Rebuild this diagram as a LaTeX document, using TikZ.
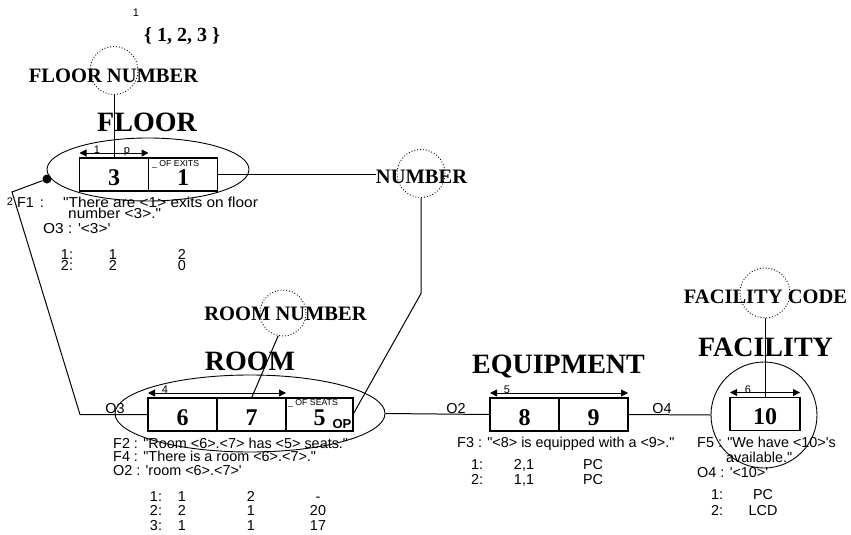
\documentclass[tikz,border=0pt]{standalone}
\usepackage{fontspec}
\setmainfont{Liberation Serif}
\newfontfamily\plainsans{Liberation Sans}
\usepackage{tikz}
\usetikzlibrary{positioning,arrows.meta,shapes.geometric}
\newcommand{\enttxt}{\bfseries\fontsize{28}{30}\selectfont}
\newcommand{\roletxt}{\bfseries\fontsize{20.5}{22}\selectfont}
\newcommand{\celltxt}{\bfseries\fontsize{24}{26}\selectfont}
\newcommand{\facttxt}{\plainsans\fontsize{14.4}{14}\selectfont}
\newcommand{\tinytxt}{\plainsans\fontsize{11}{12}\selectfont}
\newcommand{\captxt}{\plainsans\fontsize{8.7}{9}\selectfont}
\newcommand{\wide}[1]{\scalebox{1.07}[1]{#1}}

\begin{document}
\begin{tikzpicture}[x=1pt,y=-1pt,>={Triangle[length=7pt,width=7pt]},
  cell/.style={draw,line width=1.1pt,minimum width=69pt,minimum height=33pt,inner sep=0pt,outer sep=0pt,font=\celltxt,text height=21pt,text depth=0pt},
  ent/.style={font=\enttxt,inner sep=0pt,anchor=base},
  role/.style={font=\roletxt,inner sep=0pt,anchor=base},
  ring/.style={draw,circle,dotted,line width=0.9pt,inner sep=0pt,minimum size=48pt},
  group/.style={draw,ellipse,line width=0.9pt,inner sep=0pt},
  fact/.style={font=\facttxt,inner sep=0pt,anchor=base west},
  col/.style={font=\facttxt,inner sep=0pt,anchor=base},
  lane/.style={<->,line width=1pt},
  link/.style={line width=1pt}]
\useasboundingbox (0,0) rectangle (851,535);

\node[cell] (f3) at (114,174.5) {3};
\node[cell,right=0pt of f3] (f1) {1};
\node[cell] (r6) at (182.5,414.5) {6};
\node[cell,right=0pt of r6] (r7) {7};
\node[cell,right=0pt of r7,minimum width=67pt] (r5) {5};
\node[cell] (e8) at (524.5,414.5) {8};
\node[cell,right=0pt of e8] (e9) {9};
\node[cell,minimum width=70pt] (c10) at (765,414) {10};

\node[group,minimum width=202pt,minimum height=63pt] (floorell) at (148,169.5) {};
\node[group,minimum width=270pt,minimum height=77pt] (roomell) at (250,413.5) {};
\node[group,circle,minimum size=106pt] (facell) at (764,415) {};

\node[ent] (floor) at (147,131) {FLOOR};
\node[ent] (room) at (250,370) {ROOM};
\node[ent] (equip) at (558.5,373) {EQUIPMENT};
\node[ent] (facility) at (765.5,356) {FACILITY};

\node[role] (floornum) at (113.5,82) {FLOOR NUMBER};
\node[role] (number) at (421.5,183) {NUMBER};
\node[role] (roomnum) at (285.5,320) {ROOM NUMBER};
\node[role] (faccode) at (765.5,303) {FACILITY CODE};
\node[ring] (fnc) at (114,70.5) {};
\node[ring] (numc) at (421,173.5) {};
\node[ring,minimum size=46pt] (rnc) at (283,313) {};
\node[ring,minimum size=50pt] (fcc) at (765,293) {};

\node[role,font=\bfseries\fontsize{20}{22}\selectfont] (valset) at (182,42) {\{ 1, 2, 3 \}};
\node[col,font=\tinytxt] (refone) at (136,17) {1};
\node[col,font=\tinytxt] (reftwo) at (10,205) {2};

\node[fact,font=\captxt] (exits) at (152,166) {\_ OF EXITS};
\node[fact,font=\captxt] (seats) at (288,405) {\_ OF SEATS};
\node[col,font=\plainsans\bfseries\fontsize{13}{13}\selectfont] (op) at (342,428) {OP};

\draw[lane] ([yshift=5pt]f3.north west) -- ([yshift=5pt]f3.north east);
\node[col,font=\tinytxt] (fkey) at (97,153) {1};
\node[col,font=\tinytxt] (fprim) at (127,153) {p};
\draw[lane] ([yshift=5pt]r6.north west) -- ([yshift=5pt]r7.north east);
\node[col,font=\tinytxt] (rkey) at (165,393) {4};
\draw[lane] ([yshift=5pt]e8.north west) -- ([yshift=5pt]e9.north east);
\node[col,font=\tinytxt] (ekey) at (507,393) {5};
\draw[lane] ([yshift=5pt]c10.north west) -- ([yshift=5pt]c10.north east);
\node[col,font=\tinytxt] (ckey) at (748,393) {6};

\node[fill,circle,minimum size=9pt,inner sep=0pt] (fdot) at (47,179) {};
\coordinate (fbend) at (12,192);
\coordinate (rbend) at (80,414.5);
\coordinate (numbend) at (421,293.5);
\draw[link] (fnc) -- (f3.north);
\draw[link] (f1.east) -- (f1.east -| number.west);
\draw[link] (numc.south) -- (numbend) -- (r5.east);
\draw[link] (rnc.-102) -- (r7.north);
\draw[link] (fdot) -- (fbend) -- (rbend) -- (r6.west);
\draw[link] (roomell.east) -- (e8.west);
\draw[link] (e9.east) -- (facell.west);
\draw[link] (fcc) -- (c10.north);

\node[col] (othree) at (115,413) {O3};
\node[col] (otwo) at (456,413) {O2};
\node[col] (ofour) at (662,413) {O4};

\node[fact] (fonetag) at (17,207) {F1\hspace{6pt}:};
\node[fact] (fone) at (63,207) {\wide{"There are <1> exits on floor}};
\node[fact] (fonebis) at (68,218) {\wide{number <3>."}};
\node[fact] (othreeexp) at (43,233) {\wide{O3 : '<3>'}};
\node[fact] (ftwo) at (113,448) {F2 : "Room <6>.<7> has <5> seats."};
\node[fact] (ffour) at (113,461) {F4 : "There is a room <6>.<7>."};
\node[fact] (otwoexp) at (113,475) {O2 : 'room <6>.<7>'};
\node[fact] (fthree) at (457,447) {F3 : "<8> is equipped with a <9>."};
\node[fact] (ffive) at (697,447) {F5 : "We have <10>'s};
\node[fact] (ffivebis) at (726,462) {available."};
\node[fact] (ofourexp) at (697,477) {O4 : '<10>'};

\foreach \r/\a/\b [count=\i] in {1/1/2,2/2/0}{
  \node[col] (fpop\i) at (67,248.5+11*\i) {\r:};
  \node[col] (fpopa\i) at (113,248.5+11*\i) {\a};
  \node[col] (fpopb\i) at (182,248.5+11*\i) {\b};
}
\foreach \r/\a/\b/\c [count=\i] in {1/1/2/-,2/2/1/20,3/1/1/17}{
  \node[col] (rpop\i) at (156,486.5+14.5*\i) {\r:};
  \node[col] (rpopa\i) at (182,486.5+14.5*\i) {\a};
  \node[col] (rpopb\i) at (251,486.5+14.5*\i) {\b};
  \node[col] (rpopc\i) at (318,486.5+14.5*\i) {\c};
}
\foreach \r/\a/\b [count=\i] in {1/{2,1}/PC,2/{1,1}/PC}{
  \node[col] (epop\i) at (477,454+15*\i) {\r:};
  \node[col] (epopa\i) at (524,454+15*\i) {\a};
  \node[col] (epopb\i) at (593,454+15*\i) {\b};
}
\foreach \r/\a [count=\i] in {1/PC,2/LCD}{
  \node[col] (cpop\i) at (717,483+16*\i) {\r:};
  \node[col] (cpopa\i) at (763,483+16*\i) {\a};
}
\end{tikzpicture}
\end{document}
